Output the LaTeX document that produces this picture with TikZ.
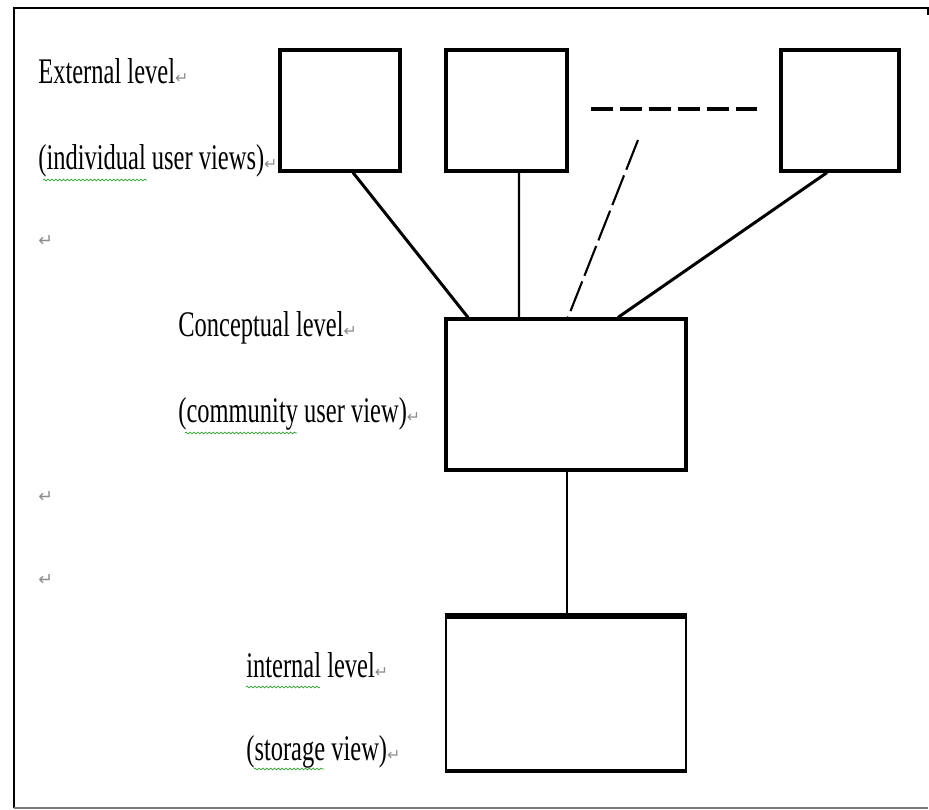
\documentclass[tikz,border=0pt]{standalone}
\usepackage{fontspec}
\setmainfont{Liberation Serif}
\newfontfamily\lblfont[FakeStretch=0.68]{Liberation Serif}
\newfontfamily\symfont{DejaVu Sans}
\usetikzlibrary{positioning,decorations.pathmorphing}
\usepackage{xcolor}
\definecolor{markgray}{HTML}{8C8C8C}
\definecolor{spellgreen}{HTML}{2EA02E}
\definecolor{framegray}{HTML}{7A7A7A}
\newcommand{\retmark}{{\symfont\fontsize{9}{10}\selectfont\textcolor{markgray}{↵}}}

\begin{document}
\begin{tikzpicture}[x=0.02cm,y=-0.02cm,
    level/.style={draw,line width=1.8pt,inner sep=0pt},
    lbl/.style={anchor=base west,inner sep=0pt,font=\lblfont\fontsize{20.5}{24}\selectfont},
    pmark/.style={anchor=base west,inner sep=0pt,font=\symfont\fontsize{10}{11}\selectfont,text=markgray},
    link/.style={line width=1.7pt},
    thinlink/.style={line width=1.2pt},
    spell/.style={spellgreen,line width=0.4pt,decorate,decoration={snake,amplitude=0.5pt,segment length=2.2pt}}]
    \useasboundingbox (0,0) rectangle (929,810);

    % page frame
    \draw[line width=0.6pt] (928,15) -- (928,8) -- (14,8) -- (14,808);
    \draw[framegray,line width=0.6pt] (14,808) -- (928,808);

    % external level
    \node[level,minimum width=2.4cm,minimum height=2.42cm] (ext1) at (340,110.5) {};
    \node[level,minimum width=2.42cm,minimum height=2.42cm] (ext2) at (506.5,110.5) {};
    \node[level,minimum width=2.36cm,minimum height=2.42cm] (ext3) at (840,110.5) {};
    \coordinate (dotsl) at (591,109);
    \coordinate (dotsr) at (757,109);
    \coordinate (dotsfoot) at (638,140);

    % conceptual level
    \node[level,minimum width=4.8cm,minimum height=3.02cm] (concept) at (566,394.5) {};

    % internal level
    \node[level,line width=1.3pt,minimum width=4.8cm,minimum height=3.06cm] (internal) at (566,693.5) {};
    \draw[line width=3.2pt] (internal.north west) -- (internal.north east);
    \draw[line width=2.2pt] (internal.south west) -- (internal.south east);

    % connectors
    \draw[link] ([xshift=0.26cm]ext1.south) -- ([xshift=-1.96cm]concept.north);
    \draw[thinlink] ([xshift=0.25cm]ext2.south) -- ([xshift=-0.94cm]concept.north);
    \draw[thinlink,dash pattern=on 0.64cm off 0.12cm] (dotsfoot) -- ([xshift=0.04cm]concept.north);
    \draw[link] ([xshift=-0.26cm]ext3.south) -- ([xshift=1.04cm]concept.north);
    \draw[line width=2.2pt,dash pattern=on 0.44cm off 0.14cm] (dotsl) -- (dotsr);
    \draw[thinlink] ([xshift=0.02cm]concept.south) -- ([xshift=0.02cm]internal.north);

    % labels
    \node[lbl] (extname) at (38,84) {External level\retmark};
    \node[lbl] (extview) at (38,170) {(individual user views)\retmark};
    \node[lbl] (conname) at (178,337) {Conceptual level\retmark};
    \node[lbl] (conview) at (178,422) {(community user view)\retmark};
    \node[lbl] (intname) at (246,677) {internal level\retmark};
    \node[lbl] (intview) at (246,760) {(storage view)\retmark};
    \node[pmark] (pm1) at (38,247) {↵};
    \node[pmark] (pm2) at (38,502) {↵};
    \node[pmark] (pm3) at (38,585) {↵};

    % spelling marks
    \draw[spell] (43,180) -- (147,180);
    \draw[spell] (185,433) -- (297,433);
    \draw[spell] (246,687) -- (320,687);
    \draw[spell] (254,769) -- (324,769);
\end{tikzpicture}
\end{document}
